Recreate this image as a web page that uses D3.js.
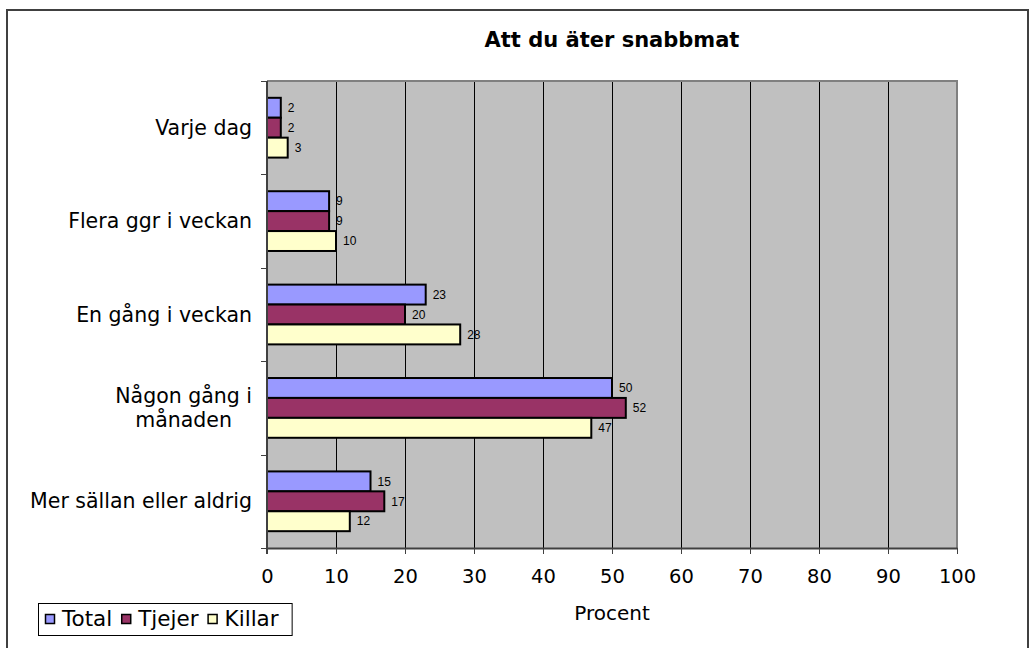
<!DOCTYPE html>
<html><head><meta charset="utf-8">
<script src="https://cdn.jsdelivr.net/npm/d3@7"></script>
<style>body{margin:0;background:#fff}svg{display:block}</style>
</head><body><svg id="c" width="1034" height="648"></svg>
<script>
const categories = ["Varje dag","Flera ggr i veckan","En gång i veckan","Någon gång i månaden","Mer sällan eller aldrig"];
const categoryLines = [["Varje dag"],["Flera ggr i veckan"],["En gång i veckan"],["Någon gång i","månaden"],["Mer sällan eller aldrig"]];
const seriesNames = ["Total","Tjejer","Killar"];
const totalValues = [2,9,23,50,15];
const tjejerValues = [2,9,20,52,17];
const killarValues = [3,10,28,47,12];
const seriesColors = ["#9999ff","#993366","#ffffcc"];
const xTicks = [0,10,20,30,40,50,60,70,80,90,100];
const title = "Att du äter snabbmat";
const xTitle = "Procent";

const seriesValues = [totalValues, tjejerValues, killarValues];
const svg = d3.select("#c");
const L = 267, R = 957, T = 81, B = 548;
const FONT = "DejaVu Sans, Verdana, sans-serif";

// outer frame
svg.append("rect").attr("x",7).attr("y",10).attr("width",1021).attr("height",660)
  .attr("fill","#fff").attr("stroke","#404040").attr("stroke-width",2);

const x = d3.scaleLinear().domain([0,100]).range([L,R]);
const y = d3.scaleBand().domain(categories).range([T,B]).paddingInner(0.36).paddingOuter(0.18);
const yi = d3.scaleBand().domain(seriesNames).range([0,y.bandwidth()]);

// plot bg
svg.append("rect").attr("x",L).attr("y",T).attr("width",R-L).attr("height",B-T).attr("fill","#c0c0c0");
// gridlines
svg.append("g").selectAll("line").data(xTicks.slice(1,-1)).join("line")
  .attr("x1",d=>Math.round(x(d))+0.5).attr("x2",d=>Math.round(x(d))+0.5)
  .attr("y1",T).attr("y2",B).attr("stroke","#000").attr("stroke-width",1);
// top & right border
svg.append("path").attr("d",`M${L},${T}H${R}V${B}`).attr("fill","none").attr("stroke","#808080").attr("stroke-width",2);

// bars
const g = svg.append("g");
categories.forEach((c,ci)=>{
  seriesNames.forEach((s,si)=>{
    const v = seriesValues[si][ci];
    const by = y(c)+yi(s);
    g.append("rect").attr("x",x(0)).attr("y",by).attr("width",x(v)-x(0)).attr("height",yi.bandwidth())
      .attr("fill",seriesColors[si]).attr("stroke","#000").attr("stroke-width",2);
    g.append("text").attr("x",x(v)+7).attr("y",by+yi.bandwidth()/2).attr("dy","0.35em")
      .attr("font-family","Liberation Sans, Arial, sans-serif").attr("font-size",12).attr("fill","#000").text(v);
  });
});

// x axis
const xa = svg.append("g").attr("transform",`translate(0,${B})`)
  .call(d3.axisBottom(x).tickValues(xTicks).tickSize(6).tickSizeOuter(0).tickPadding(15));
xa.select(".domain").attr("stroke","#404040").attr("stroke-width",2);
xa.selectAll(".tick line").attr("stroke","#404040");
xa.selectAll("text").attr("font-family",FONT).attr("font-size",19.5).attr("fill","#000");

// y axis line + ticks at band boundaries
svg.append("line").attr("x1",L).attr("x2",L).attr("y1",T).attr("y2",B+6).attr("stroke","#404040").attr("stroke-width",2);
const bounds = d3.range(categories.length+1).map(i=>T + i*(B-T)/categories.length);
svg.append("g").selectAll("line").data(bounds).join("line")
  .attr("x1",L-6).attr("x2",L).attr("y1",d=>Math.round(d)+0.5).attr("y2",d=>Math.round(d)+0.5)
  .attr("stroke","#404040").attr("stroke-width",1);

// category labels
const labG = svg.append("g").attr("font-family",FONT).attr("font-size",20.5).attr("fill","#000");
categories.forEach((c,ci)=>{
  const lines = categoryLines[ci];
  const cy = y(c)+y.bandwidth()/2;
  const lh = 24;
  const t = labG.append("text");
  lines.forEach((ln,li)=>{
    t.append("tspan").attr("x",0).attr("y",cy + (li-(lines.length-1)/2)*lh).attr("dy","0.35em").text(ln);
  });
  const w = t.node().getBBox().width;
  t.attr("text-anchor","middle").selectAll("tspan").attr("x",252 - w/2);
});

// title
svg.append("text").attr("x",(L+R)/2).attr("y",47).attr("text-anchor","middle")
  .attr("font-family",FONT).attr("font-weight","bold").attr("font-size",21).text(title);
// x title
svg.append("text").attr("x",(L+R)/2).attr("y",620).attr("text-anchor","middle")
  .attr("font-family",FONT).attr("font-size",20).text(xTitle);

// legend
const lg = svg.append("g");
const legBox = lg.append("rect").attr("x",38.5).attr("y",603.5).attr("height",32).attr("fill","#fff").attr("stroke","#000").attr("stroke-width",1);
let lx = 45;
seriesNames.forEach((s,si)=>{
  lg.append("rect").attr("x",lx+0.5).attr("y",614.5).attr("width",9).attr("height",9).attr("fill",seriesColors[si]).attr("stroke","#000").attr("stroke-width",1.5);
  const t = lg.append("text").attr("x",lx+17).attr("y",626)
    .attr("font-family",FONT).attr("font-size",21.5).text(s);
  lx += 17 + t.node().getComputedTextLength() + 9;
});
legBox.attr("width",lx - 38 + 4);
</script></body></html>
